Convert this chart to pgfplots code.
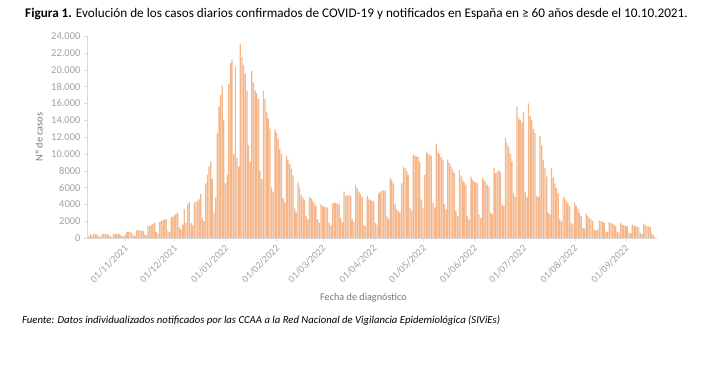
\documentclass[border=0pt]{standalone}
\usepackage{pgfplots}
\pgfplotsset{compat=1.18}
\usepackage{pgfplotstable}
\usepackage{fontspec}
\setmainfont{Carlito}
\definecolor{barc}{HTML}{F5B68A}
\definecolor{tickc}{HTML}{A0A0A0}
\definecolor{labc}{HTML}{767676}
\definecolor{axc}{HTML}{D9D9D9}
\pgfplotstableread[row sep=\\]{
y\\
200\\
500\\ 250\\ 450\\ 450\\ 400\\ 200\\ 150\\
480\\ 470\\ 450\\ 430\\ 420\\ 200\\ 150\\
520\\ 500\\ 480\\ 460\\ 430\\ 220\\ 170\\
350\\ 760\\ 730\\ 700\\ 650\\ 300\\ 250\\
950\\ 920\\ 900\\ 880\\ 850\\ 400\\ 320\\
1400\\ 1450\\ 1550\\ 1650\\ 1800\\ 700\\ 550\\
1950\\ 2000\\ 2100\\ 2200\\ 2250\\ 900\\ 700\\
2450\\ 2550\\ 2700\\ 2900\\ 3000\\ 1300\\ 1000\\
1600\\ 3400\\ 1800\\ 4000\\ 4300\\ 1800\\ 1500\\
4200\\ 4300\\ 4450\\ 4600\\ 5200\\ 2400\\ 2000\\
6500\\ 7500\\ 8500\\ 9100\\ 7000\\ 3000\\ 4800\\
12500\\ 15600\\ 17000\\ 18100\\ 14000\\ 6500\\ 7500\\
18300\\ 20800\\ 21200\\ 10000\\ 20400\\ 9500\\ 8500\\
23100\\ 21500\\ 20500\\ 19500\\ 17500\\ 11000\\ 9000\\
19900\\ 18500\\ 17500\\ 17200\\ 16500\\ 8000\\ 7000\\
17500\\ 16500\\ 15000\\ 14200\\ 13000\\ 6000\\ 5500\\
12900\\ 12500\\ 11800\\ 10600\\ 10000\\ 4700\\ 4200\\
9800\\ 9300\\ 8800\\ 8200\\ 7400\\ 3500\\ 3000\\
6600\\ 6000\\ 5100\\ 4800\\ 4500\\ 2600\\ 2200\\
4900\\ 4700\\ 4400\\ 4100\\ 3800\\ 2200\\ 1800\\
4000\\ 3800\\ 3700\\ 3650\\ 3600\\ 1800\\ 1500\\
4100\\ 4200\\ 4150\\ 4100\\ 4000\\ 2400\\ 1900\\
5500\\ 5000\\ 5050\\ 5100\\ 5000\\ 2200\\ 1900\\
6300\\ 5900\\ 5500\\ 5200\\ 4900\\ 1500\\ 1400\\
5000\\ 4600\\ 4500\\ 4450\\ 4400\\ 1800\\ 1600\\
5300\\ 5500\\ 5600\\ 5700\\ 5600\\ 2600\\ 2300\\
7100\\ 6900\\ 6500\\ 4000\\ 3400\\ 3200\\ 3000\\
6500\\ 8500\\ 8300\\ 8000\\ 7500\\ 3600\\ 3200\\
9900\\ 9800\\ 9700\\ 9600\\ 9000\\ 4600\\ 3600\\
7500\\ 10300\\ 10000\\ 9900\\ 9800\\ 4200\\ 3600\\
11200\\ 10300\\ 10000\\ 9600\\ 9300\\ 4000\\ 3400\\
9300\\ 8900\\ 8500\\ 8100\\ 7700\\ 3200\\ 2600\\
8100\\ 7400\\ 6900\\ 6600\\ 6300\\ 2600\\ 2200\\
7300\\ 6900\\ 6700\\ 6600\\ 6500\\ 2800\\ 2400\\
7100\\ 6900\\ 6600\\ 6300\\ 6100\\ 3000\\ 2800\\
8300\\ 7700\\ 7900\\ 8100\\ 7800\\ 4000\\ 3800\\
11900\\ 11300\\ 10800\\ 10000\\ 9100\\ 5300\\ 4900\\
15600\\ 14300\\ 14000\\ 13700\\ 15000\\ 5500\\ 4900\\
16000\\ 14500\\ 14000\\ 13000\\ 12500\\ 5000\\ 4900\\
12100\\ 11000\\ 9300\\ 8300\\ 7300\\ 3000\\ 2800\\
8300\\ 7200\\ 6500\\ 5900\\ 5300\\ 2200\\ 2000\\
4900\\ 4700\\ 4400\\ 4100\\ 3800\\ 1800\\ 1600\\
4200\\ 3800\\ 3500\\ 3000\\ 2600\\ 1200\\ 1100\\
2900\\ 2600\\ 2400\\ 2200\\ 2000\\ 1000\\ 900\\
1000\\ 2100\\ 2000\\ 1900\\ 1800\\ 800\\ 700\\
1900\\ 1800\\ 1700\\ 1600\\ 1400\\ 700\\ 600\\
1800\\ 1600\\ 1500\\ 1450\\ 1400\\ 650\\ 550\\
1600\\ 1450\\ 1400\\ 1350\\ 1300\\ 600\\ 500\\
1700\\ 1500\\ 1450\\ 1400\\ 1300\\ 500\\ 300\\
}\data
\begin{document}
\begin{tikzpicture}
\path[use as bounding box] (-87pt,-137pt) rectangle (618pt,238pt);
\begin{axis}[
  at={(0pt,0pt)}, anchor=south west,
  width=570pt, height=202pt, scale only axis,
  xmin=-1.1, xmax=345, ymin=0, ymax=24000,
  axis lines*=left, axis line style={axc},
  ybar, bar width=0.74,
  scaled y ticks=false,
  xtick={22,52,83,114,142,173,203,234,264,295,326},
  xticklabels={01/11/2021,01/12/2021,01/01/2022,01/02/2022,01/03/2022,01/04/2022,01/05/2022,01/06/2022,01/07/2022,01/08/2022,01/09/2022},
  ytick={0,2000,...,24000},
  yticklabels={0,2000,4000,6000,8000,10.000,12.000,14.000,16.000,18.000,20.000,22.000,24.000},
  tick style={axc}, major tick length=3pt, tick align=outside,
  xticklabel style={rotate=45, anchor=north east, font=\fontsize{10}{12}\selectfont, text=tickc, inner sep=1pt, xshift=-2pt},
  yticklabel style={font=\fontsize{10.5}{12}\selectfont, text=tickc},
  xlabel={Fecha de diagnóstico},
  ylabel={Nº de casos},
  xlabel style={at={(axis description cs:0.485,0)}, anchor=center, yshift=-60pt, font=\fontsize{10.2}{12}\selectfont, text=labc},
  ylabel style={at={(axis description cs:0,0.5)}, anchor=center, yshift=48pt, font=\fontsize{10.2}{12}\selectfont, text=labc},
]
\addplot[fill=barc, draw=none] table[x expr=\coordindex, y=y]{\data};
\end{axis}
\node[anchor=west, font=\fontsize{13.2}{15}\selectfont, inner sep=0pt] at (-62pt,224pt) {\textbf{Figura 1.} Evolución de los casos diarios confirmados de COVID-19 y notificados en España en ≥ 60 años desde el 10.10.2021.};
\node[anchor=west, font=\fontsize{10.7}{12}\selectfont\itshape, inner sep=0pt] at (-65pt,-83pt) {Fuente: Datos individualizados notificados por las CCAA a la Red Nacional de Vigilancia Epidemiológica (SIViEs)};
\end{tikzpicture}
\end{document}
